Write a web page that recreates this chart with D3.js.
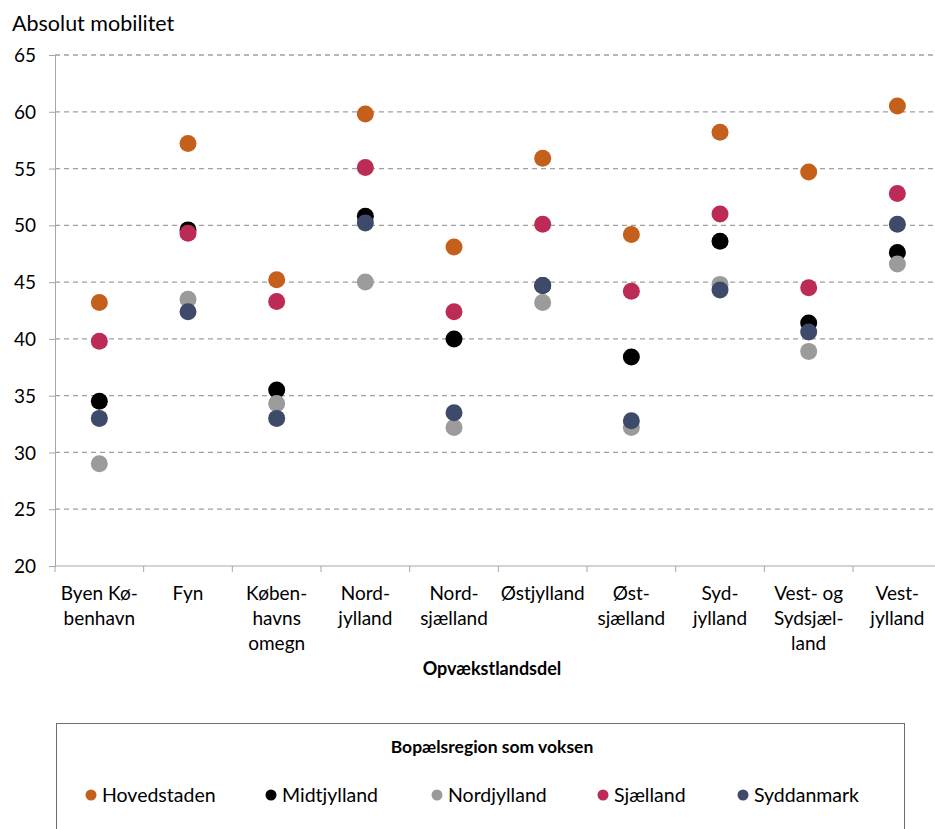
<!DOCTYPE html>
<html>
<head>
<meta charset="utf-8">
<script src="https://cdn.jsdelivr.net/npm/d3@7"></script>
<style>
body { margin: 0; background: #fff; }
text { font-family: Lato, "Open Sans", sans-serif; fill: #000; }
.axis path, .axis line { stroke: #a6a6a6; }
</style>
</head>
<body>
<script>
var w = 935;
var h = 829;

var categories = ["Byen Kø-\nbenhavn", "Fyn", "Køben-\nhavns\nomegn", "Nord-\njylland", "Nord-\nsjælland",
                  "Østjylland", "Øst-\nsjælland", "Syd-\njylland", "Vest- og\nSydsjæl-\nland", "Vest-\njylland"];
var seriesNames = ["Hovedstaden", "Midtjylland", "Nordjylland", "Sjælland", "Syddanmark"];
var seriesColors = ["#c4601b", "#000000", "#9b9b9b", "#bc2b55", "#3e4a6a"];

var hovedstaden = [43.2, 57.2, 45.2, 59.8, 48.1, 55.9, 49.2, 58.2, 54.7, 60.5];
var midtjylland = [34.5, 49.6, 35.5, 50.8, 40.0, 44.7, 38.4, 48.6, 41.4, 47.6];
var nordjylland = [29.0, 43.5, 34.3, 45.0, 32.2, 43.2, 32.2, 44.8, 38.9, 46.6];
var sjaelland   = [39.8, 49.3, 43.3, 55.1, 42.4, 50.1, 44.2, 51.0, 44.5, 52.8];
var syddanmark  = [33.0, 42.4, 33.0, 50.2, 33.5, 44.7, 32.8, 44.3, 40.6, 50.1];
var seriesValues = [hovedstaden, midtjylland, nordjylland, sjaelland, syddanmark];

var yTicks = [20, 25, 30, 35, 40, 45, 50, 55, 60, 65];

var margin = {"left": 55, "top": 55};
var plotRight = 941.7;
var plotBottom = 566;

var svg = d3.select("body")
            .append("svg")
            .attr("width", w)
            .attr("height", h);

var xScale = d3.scaleBand()
                .domain(categories)
                .range([margin.left, plotRight])
                .padding(0);

var yScale = d3.scaleLinear()
                .domain([20, 65])
                .range([plotBottom, margin.top]);

// gridlines
svg.append("g")
    .selectAll("line")
    .data(yTicks.filter(function(d){ return d > 20; }))
    .enter()
    .append("line")
    .attr("x1", margin.left)
    .attr("x2", w)
    .attr("y1", function(d){ return yScale(d); })
    .attr("y2", function(d){ return yScale(d); })
    .attr("stroke", "#a0a0a0")
    .attr("stroke-width", 1.3)
    .attr("stroke-dasharray", "5,4");

// y axis
var yAxis = d3.axisLeft(yScale)
                .tickValues(yTicks)
                .tickSize(6)
                .tickPadding(13)
                .tickSizeOuter(0);

var gy = svg.append("g")
    .classed("axis", true)
    .attr("transform", "translate(" + margin.left + ",0)")
    .call(yAxis);
gy.selectAll("text")
    .style("font-size", "19px")
    .attr("dy", "0.35em");

// x axis line and ticks at band edges
svg.append("line")
    .attr("x1", margin.left)
    .attr("x2", w)
    .attr("y1", plotBottom)
    .attr("y2", plotBottom)
    .attr("stroke", "#a6a6a6");

svg.append("g")
    .selectAll("line")
    .data(categories)
    .enter()
    .append("line")
    .attr("x1", function(d){ return xScale(d); })
    .attr("x2", function(d){ return xScale(d); })
    .attr("y1", plotBottom)
    .attr("y2", plotBottom + 6)
    .attr("stroke", "#a6a6a6");

// category labels
var catLabels = svg.append("g")
    .selectAll("text")
    .data(categories)
    .enter()
    .append("text")
    .attr("text-anchor", "middle")
    .style("font-size", "19px")
    .attr("x", function(d){ return xScale(d) + xScale.bandwidth()/2; })
    .attr("y", 600);

catLabels.selectAll("tspan")
    .data(function(d){ return d.split("\n"); })
    .enter()
    .append("tspan")
    .attr("x", function(){ return d3.select(this.parentNode).attr("x"); })
    .attr("dy", function(d,i){ return i === 0 ? 0 : 25; })
    .text(function(d){ return d; });

// axis titles
svg.append("text")
    .attr("x", 12)
    .attr("y", 31)
    .style("font-size", "21.5px")
    .text("Absolut mobilitet");

svg.append("text")
    .attr("x", 492)
    .attr("y", 675)
    .attr("text-anchor", "middle")
    .style("font-size", "18px")
    .style("font-weight", "bold")
    .text("Opvækstlandsdel");

// dots
seriesValues.forEach(function(vals, s){
    svg.append("g")
        .selectAll("circle")
        .data(vals)
        .enter()
        .append("circle")
        .attr("cx", function(d,i){ return xScale(categories[i]) + xScale.bandwidth()/2; })
        .attr("cy", function(d){ return yScale(d); })
        .attr("r", 8.5)
        .attr("fill", seriesColors[s]);
});

// legend
svg.append("rect")
    .attr("x", 56.5)
    .attr("y", 723.5)
    .attr("width", 848)
    .attr("height", 130)
    .attr("fill", "none")
    .attr("stroke", "#6e6e6e")
    .attr("stroke-width", 1);

svg.append("text")
    .attr("x", 492)
    .attr("y", 753)
    .attr("text-anchor", "middle")
    .style("font-size", "17.5px")
    .style("font-weight", "bold")
    .text("Bopælsregion som voksen");

var legendX = [91, 271, 437, 603, 743];
var legendItems = svg.append("g")
    .selectAll("g")
    .data(seriesNames)
    .enter()
    .append("g")
    .attr("transform", function(d,i){ return "translate(" + legendX[i] + ",795)"; });

legendItems.append("circle")
    .attr("r", 5.5)
    .attr("fill", function(d,i){ return seriesColors[i]; });

legendItems.append("text")
    .attr("x", 11)
    .attr("y", 6.5)
    .style("font-size", "19.5px")
    .text(function(d){ return d; });
</script>
</body>
</html>
